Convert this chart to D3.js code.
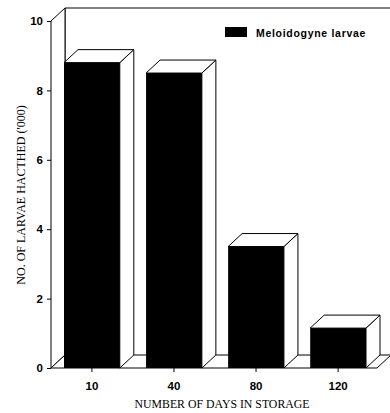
<!DOCTYPE html>
<html>
<head>
<meta charset="utf-8">
<script src="https://cdn.jsdelivr.net/npm/d3@7"></script>
<style>
  html, body { margin: 0; padding: 0; background: #fff; }
  svg { display: block; }
</style>
</head>
<body>
<svg id="chart" width="390" height="413"></svg>
<script>
// ---- data ----
const categories = ["10", "40", "80", "120"];
const larvae = [8.8, 8.5, 3.5, 1.15];
const yTicks = [0, 2, 4, 6, 8, 10];
const seriesName = "Meloidogyne larvae";
const xTitle = "NUMBER OF DAYS IN STORAGE";
const yTitle = "NO. OF LARVAE HACTHED ('000)";

// ---- layout ----
const svg = d3.select("#chart");
const dx = 14, dy = -13;           // 3-D depth offset
const axisX = 51;                  // left axis line
const floorRight = 377;

const x = d3.scaleBand().domain(categories).range([64, 366]).paddingInner(0.32).paddingOuter(0);
const y = d3.scaleLinear().domain([0, 10]).range([368, 21]);

const g = svg.append("g");
const stroke = "#000";

// back wall top edge
g.append("line")
  .attr("x1", axisX + dx).attr("y1", y(10) + dy)
  .attr("x2", 392).attr("y2", y(10) + dy)
  .attr("stroke", stroke).attr("stroke-width", 1);

// back wall left edge
g.append("line")
  .attr("x1", axisX + dx).attr("y1", y(10) + dy)
  .attr("x2", axisX + dx).attr("y2", y(0) + dy)
  .attr("stroke", stroke).attr("stroke-width", 1);

// left side wall
g.append("polygon")
  .attr("points", [[axisX, y(0)], [axisX, y(10)], [axisX + dx, y(10) + dy], [axisX + dx, y(0) + dy]].join(" "))
  .attr("fill", "#fff").attr("stroke", stroke).attr("stroke-width", 1);

// floor
g.append("polygon")
  .attr("points", [[axisX, y(0)], [floorRight, y(0)], [floorRight + dx, y(0) + dy], [axisX + dx, y(0) + dy]].join(" "))
  .attr("fill", "#fff").attr("stroke", stroke).attr("stroke-width", 1);

// bars
const bars = g.selectAll("g.bar").data(larvae).enter().append("g").attr("class", "bar");
bars.each(function(v, i) {
  const sel = d3.select(this);
  const x0 = x(categories[i]), x1 = x0 + x.bandwidth();
  const yt = y(v), yb = y(0);
  // right side face
  sel.append("polygon")
    .attr("points", [[x1, yb], [x1, yt], [x1 + dx, yt + dy], [x1 + dx, yb + dy]].join(" "))
    .attr("fill", "#fff").attr("stroke", stroke).attr("stroke-width", 1);
  // top face
  sel.append("polygon")
    .attr("points", [[x0, yt], [x1, yt], [x1 + dx, yt + dy], [x0 + dx, yt + dy]].join(" "))
    .attr("fill", "#fff").attr("stroke", stroke).attr("stroke-width", 1);
  // front face
  sel.append("rect")
    .attr("x", x0).attr("y", yt).attr("width", x.bandwidth()).attr("height", yb - yt)
    .attr("fill", "#000");
});

// y axis
const yAxis = d3.axisLeft(y).tickValues(yTicks).tickSize(4).tickPadding(4).tickFormat(d3.format("d"));
const ya = svg.append("g").attr("transform", `translate(${axisX},0)`).call(yAxis);
ya.select(".domain").remove();
ya.selectAll("text").attr("font-family", "Liberation Sans, Arial, sans-serif")
  .attr("font-weight", "bold").attr("font-size", 11.5).attr("fill", "#000");

// x axis
const xAxis = d3.axisBottom(x).tickSize(4).tickPadding(10);
const xa = svg.append("g").attr("transform", `translate(0,${y(0)})`).call(xAxis);
xa.select(".domain").remove();
xa.selectAll("text").attr("font-family", "Liberation Sans, Arial, sans-serif")
  .attr("font-weight", "bold").attr("font-size", 11.5).attr("fill", "#000");

// axis titles
svg.append("text")
  .attr("x", 222).attr("y", 408)
  .attr("text-anchor", "middle")
  .attr("font-family", "Liberation Serif, Times New Roman, serif")
  .attr("font-size", 11.8)
  .text(xTitle);

svg.append("text")
  .attr("transform", "translate(25,195) rotate(-90)")
  .attr("text-anchor", "middle")
  .attr("font-family", "Liberation Serif, Times New Roman, serif")
  .attr("font-size", 12)
  .text(yTitle);

// legend
const lg = svg.append("g").attr("transform", "translate(225,27)");
lg.append("rect").attr("width", 22).attr("height", 10).attr("fill", "#000");
lg.append("text").attr("x", 31).attr("y", 9.5)
  .attr("font-family", "Liberation Sans, Arial, sans-serif")
  .attr("font-weight", "bold").attr("font-size", 10.5)
  .attr("letter-spacing", 0.7)
  .text(seriesName);
</script>
</body>
</html>
